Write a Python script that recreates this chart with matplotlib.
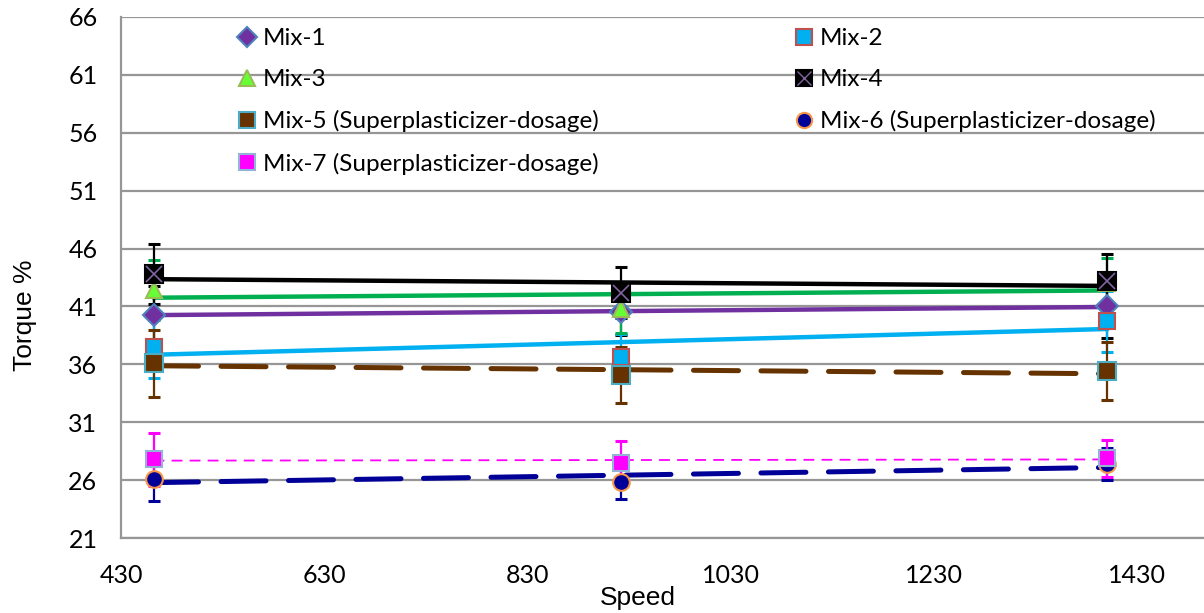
import numpy as np
import matplotlib
matplotlib.use("Agg")
import matplotlib.pyplot as plt
from matplotlib.lines import Line2D

plt.rcParams['font.family'] = ['Lato', 'DejaVu Sans']

speed = [462, 922, 1401]
names = ["Mix-1", "Mix-2", "Mix-3", "Mix-4",
         "Mix-5 (Superplasticizer-dosage)", "Mix-6 (Superplasticizer-dosage)",
         "Mix-7 (Superplasticizer-dosage)"]

mix1 = [40.3, 40.5, 41.0]
mix2 = [37.5, 36.6, 39.7]
mix3 = [42.4, 40.8, 43.0]
mix4 = [43.8, 42.2, 43.2]
mix5 = [36.1, 35.1, 35.4]
mix6 = [26.1, 25.8, 27.4]
mix7 = [27.8, 27.5, 27.9]

err1 = [2.5, 2.0, 2.7]
err2 = [2.7, 2.0, 2.6]
err3 = [2.6, 2.1, 2.2]
err4 = [2.6, 2.2, 2.3]
err5 = [2.9, 2.4, 2.5]
err6 = [1.9, 1.4, 1.4]
err7 = [2.3, 1.9, 1.6]

values = [mix1, mix2, mix3, mix4, mix5, mix6, mix7]
errors = [err1, err2, err3, err4, err5, err6, err7]

# marker, face, edge, error bar colour, trendline colour, trendline style, width
styles = [
    ("D", "#7030A0", "#4F81BD", "black", "#7030A0", "-", 3.2),
    ("s", "#00B0F0", "#C0504D", "#00B0F0", "#00B0F0", "-", 3.2),
    ("^", "#66FF33", "#9BBB59", "#00B050", "#00B050", "-", 3.2),
    ("s", "black", "black", "black", "black", "-", 3.2),
    ("s", "#663300", "#4BACC6", "#663300", "#663300", (0, (9, 4.5)), 3.6),
    ("o", "#000099", "#F79646", "#000099", "#000099", (0, (9, 4.5)), 3.6),
    ("s", "#FF00FF", "#95B3D7", "#FF00FF", "#FF00FF", (0, (6, 4)), 1.3),
]
msizes = [11, 12, 12, 13, 13, 12, 12]

fig = plt.figure(figsize=(12.04, 6.13), dpi=100)
ax = fig.add_axes([121 / 1204, 75 / 613, 1083 / 1204, 521 / 613])

x = np.array(speed)
handles = []
for i in range(7):
    mk, fc, ec, errc, lc, ls, lw = styles[i]
    y = np.array(values[i])
    # linear trendline like the spreadsheet one
    k, b = np.polyfit(x, y, 1)
    ax.plot(x, k * x + b, color=lc, ls=ls, lw=lw, zorder=3, solid_capstyle='round',
            dash_capstyle='round' if lw > 2 else 'butt')
    ax.errorbar(x, y, yerr=errors[i], fmt='none', ecolor=errc, elinewidth=1.6,
                capsize=4.5, capthick=2.2, zorder=4 + i * 0.1)
    ax.plot(x, y, ls='none', marker=mk, ms=msizes[i], mfc=fc, mec=ec, mew=1.5,
            zorder=5 + i * 0.1)
    if i == 3:
        ax.plot(x, y, ls='none', marker='x', ms=msizes[i] - 2, mec="#8064A2", mew=1.2,
                zorder=5.05 + i * 0.1)
    h = Line2D([], [], ls='none', marker=mk, ms=msizes[i] - 1, mfc=fc, mec=ec, mew=1.5)
    if i == 3:
        h = (h, Line2D([], [], ls='none', marker='x', ms=msizes[i] - 3, mec="#8064A2", mew=1.0))
    handles.append(h)

ax.set_xlim(430, 1496)
ax.set_ylim(21, 66)
ax.set_xticks(np.arange(430, 1431, 200))
ax.set_yticks(np.arange(21, 67, 5))
ax.grid(axis='y', color='#969696', lw=1.6)
ax.set_axisbelow(True)
for s in ['top', 'right']:
    ax.spines[s].set_visible(False)
for s in ['left', 'bottom']:
    ax.spines[s].set_color('#969696')
    ax.spines[s].set_linewidth(1.6)
ax.tick_params(length=0, labelsize=18, pad=17)
ax.tick_params(axis='x', pad=18.5)
ax.set_xlabel("Speed", fontsize=19, family=['Liberation Sans', 'DejaVu Sans'], va='center')
ax.set_ylabel("Torque %", fontsize=19, family=['Liberation Sans', 'DejaVu Sans'], va='center')
ax.xaxis.set_label_coords((638 - 121) / 1083, (538 - 598) / 521)
ax.yaxis.set_label_coords((25 - 121) / 1083, (538 - 315) / 521)

leg_kw = dict(frameon=False, fontsize=17.5, handlelength=0.9, handletextpad=0.2,
              labelspacing=0.83, borderaxespad=0, borderpad=0)
leg1 = ax.legend([handles[j] for j in (0, 2, 4, 6)], [names[j] for j in (0, 2, 4, 6)],
                 loc='upper left', bbox_to_anchor=(236 / 1204, 1 - 28 / 613),
                 bbox_transform=fig.transFigure, **leg_kw)
ax.add_artist(leg1)
ax.legend([handles[j] for j in (1, 3, 5)], [names[j] for j in (1, 3, 5)],
          loc='upper left', bbox_to_anchor=(793 / 1204, 1 - 28 / 613),
          bbox_transform=fig.transFigure, **leg_kw)

fig.savefig("out.png", dpi=100)
